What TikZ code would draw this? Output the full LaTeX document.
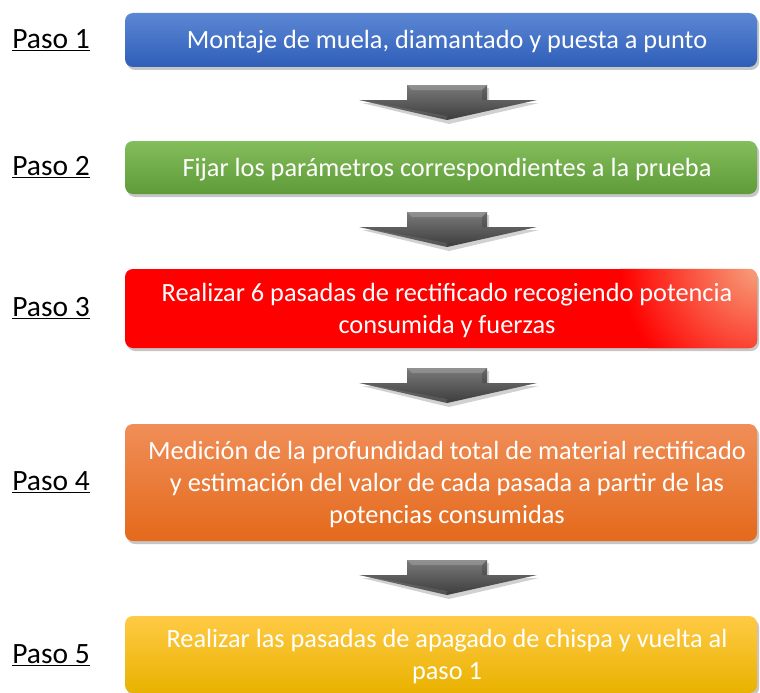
\documentclass[tikz,border=0pt]{standalone}
\usepackage{fontspec}
\setmainfont{Carlito}
\usetikzlibrary{shadows}
\definecolor{bluetop}{HTML}{5B87D3}
\definecolor{bluebot}{HTML}{2F5EB9}
\definecolor{greentop}{HTML}{84BD5C}
\definecolor{greenbot}{HTML}{5F9B38}
\definecolor{redmain}{HTML}{FF0000}
\definecolor{redhi}{HTML}{F6A57E}
\definecolor{orangetop}{HTML}{F08E58}
\definecolor{orangebot}{HTML}{E4691B}
\definecolor{goldtop}{HTML}{FFCA45}
\definecolor{goldbot}{HTML}{E9B200}
\definecolor{arrtop}{HTML}{7A7A7A}
\definecolor{arrbot}{HTML}{3C3C3C}
\begin{document}
\begin{tikzpicture}[x=1pt,y=-1pt,
  stepbox/.style={rounded corners=8pt, minimum width=632pt, inner sep=0pt,
    drop shadow={shadow xshift=2pt, shadow yshift=-3pt, opacity=0.45}},
  steptext/.style={align=center, text=white, font=\fontsize{26.3}{32}\selectfont,
    inner sep=0pt, xshift=6pt, yshift=-2pt},
  pasolabel/.style={font=\fontsize{29.5}{34}\selectfont, text=black, inner sep=0pt},
  downarr/.pic={
    \fill[black, opacity=0.18] (-38,3) -- (42,3) -- (42,18) -- (92,18) -- (2,39) -- (-85,18) -- (-38,18) -- cycle;
    \shade[top color=arrtop, bottom color=arrbot] (-40,0) -- (40,0) -- (40,15) -- (90,15) -- (0,35) -- (-88,15) -- (-40,15) -- cycle;
    \fill[white, opacity=0.18] (-40,0) -- (40,0) -- (35,5) -- (-35,5) -- cycle;
    \fill[black, opacity=0.15] (40,0) -- (40,15) -- (35,15) -- (35,5) -- cycle;
    \fill[white, opacity=0.10] (-88,15) -- (0,35) -- (0,31) -- cycle;
  }]
\useasboundingbox (0,0) rectangle (760,693);

% step boxes
\node[stepbox, minimum height=54pt, top color=bluetop, bottom color=bluebot] (b1) at (441,40) {};
\node[stepbox, minimum height=53pt, top color=greentop, bottom color=greenbot] (b2) at (441,167.5) {};
\node[stepbox, minimum height=79pt, fill=redmain] (b3) at (441,308.5) {};
\begin{scope}
  \clip[rounded corners=8pt] (b3.south west) rectangle (b3.north east);
  \shade[inner color=redhi, outer color=redmain] (760,264) circle (140);
\end{scope}
\node[stepbox, minimum height=117pt, top color=orangetop, bottom color=orangebot] (b4) at (441,482.5) {};
\node[stepbox, minimum height=77pt, top color=goldtop, bottom color=goldbot] (b5) at (441,654.5) {};

% box texts
\node[steptext] (t1) at (b1.center) {Montaje de muela, diamantado y puesta a punto};
\node[steptext] (t2) at (b2.center) {Fijar los parámetros correspondientes a la prueba};
\node[steptext] (t3) at (b3.center) {Realizar 6 pasadas de rectificado recogiendo potencia\\consumida y fuerzas};
\node[steptext] (t4) at (b4.center) {Medición de la profundidad total de material rectificado\\y estimación del valor de cada pasada a partir de las\\potencias consumidas};
\node[steptext] (t5) at (b5.center) {Realizar las pasadas de apagado de chispa y vuelta al\\paso 1};

% labels
\node[pasolabel] (p1) at (51,40) {\underline{Paso 1}};
\node[pasolabel] (p2) at (51,167) {\underline{Paso 2}};
\node[pasolabel] (p3) at (51,308) {\underline{Paso 3}};
\node[pasolabel] (p4) at (51,482) {\underline{Paso 4}};
\node[pasolabel] (p5) at (51,655) {\underline{Paso 5}};

% arrows
\pic at (447,85) {downarr};
\pic at (447,212) {downarr};
\pic at (447,368) {downarr};
\pic at (447,560) {downarr};
\end{tikzpicture}
\end{document}
